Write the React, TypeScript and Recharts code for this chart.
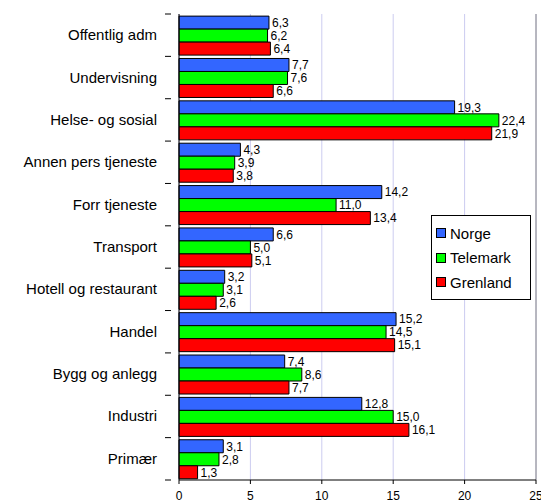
import { BarChart, Bar, XAxis, YAxis, CartesianGrid, LabelList, ReferenceLine } from 'recharts'

const categories = [
  'Offentlig adm',
  'Undervisning',
  'Helse- og sosial',
  'Annen pers tjeneste',
  'Forr tjeneste',
  'Transport',
  'Hotell og restaurant',
  'Handel',
  'Bygg og anlegg',
  'Industri',
  'Primær',
]
const norge = [6.3, 7.7, 19.3, 4.3, 14.2, 6.6, 3.2, 15.2, 7.4, 12.8, 3.1]
const telemark = [6.2, 7.6, 22.4, 3.9, 11.0, 5.0, 3.1, 14.5, 8.6, 15.0, 2.8]
const grenland = [6.4, 6.6, 21.9, 3.8, 13.4, 5.1, 2.6, 15.1, 7.7, 16.1, 1.3]
const xTicks = [0, 5, 10, 15, 20, 25]

const series = [
  { key: 'norge', name: 'Norge', color: '#3366FF' },
  { key: 'telemark', name: 'Telemark', color: '#00FF00' },
  { key: 'grenland', name: 'Grenland', color: '#FF0000' },
]

const data = categories.map((c, i) => ({
  cat: c,
  norge: norge[i],
  telemark: telemark[i],
  grenland: grenland[i],
}))

const font = '"Liberation Sans", Arial, sans-serif'
const fmt = (v: any) => Number(v).toFixed(1).replace('.', ',')

const BAND = 466 / categories.length

function CatTick(props: any) {
  const { x, y, payload, index } = props
  const top = y - BAND / 2
  return (
    <g>
      <line x1={x - 6} x2={x} y1={top} y2={top} stroke="#000" />
      {index === categories.length - 1 && (
        <line x1={x - 6} x2={x} y1={top + BAND} y2={top + BAND} stroke="#000" />
      )}
      <text x={x - 14} y={y} dy={5} textAnchor="end" fontSize={15} fill="#000" fontFamily={font}>
        {payload.value}
      </text>
    </g>
  )
}

function LegendBox() {
  return (
    <div
      style={{
        position: 'absolute',
        left: 431,
        top: 215,
        width: 98,
        border: '1px solid #000',
        background: '#fff',
        padding: '5px 0 4px 0',
        fontFamily: font,
        fontSize: 15,
      }}
    >
      {series.map((s) => (
        <div key={s.key} style={{ display: 'flex', alignItems: 'center', height: 24.5 }}>
          <span
            style={{
              display: 'inline-block',
              width: 8,
              height: 8,
              background: s.color,
              border: '1px solid #000',
              marginLeft: 4,
              marginRight: 4,
            }}
          />
          <span>{s.name}</span>
        </div>
      ))}
    </div>
  )
}

export default function App() {
  return (
    <div style={{ position: 'absolute', left: 0, top: 0, width: 541, height: 502, background: '#fff' }}>
      <BarChart
        width={541}
        height={502}
        data={data}
        layout="vertical"
        margin={{ top: 14, right: 5, left: 0, bottom: 0 }}
        barCategoryGap="5%"
        barGap={0}
      >
        <CartesianGrid horizontal={false} stroke="#CCCCF0" />
        <XAxis
          type="number"
          domain={[0, 25]}
          ticks={xTicks}
          interval={0}
          height={22}
          axisLine={{ stroke: '#000' }}
          tickLine={{ stroke: '#000' }}
          tickSize={4}
          tickMargin={7}
          tick={{ fill: '#000', fontSize: 12, fontFamily: font }}
        />
        <XAxis
          xAxisId="top"
          type="number"
          domain={[0, 25]}
          orientation="top"
          height={0}
          tick={false}
          tickLine={false}
          axisLine={{ stroke: '#888' }}
        />
        <YAxis
          type="category"
          dataKey="cat"
          width={179}
          axisLine={{ stroke: '#000' }}
          tickLine={false}
          interval={0}
          tick={<CatTick />}
        />
        <ReferenceLine x={25} stroke="#888" />
        {series.map((s) => (
          <Bar
            key={s.key}
            dataKey={s.key}
            name={s.name}
            fill={s.color}
            stroke="#000"
            strokeWidth={1}
            isAnimationActive={false}
          >
            <LabelList
              dataKey={s.key}
              position="right"
              offset={3}
              formatter={fmt}
              style={{ fill: '#000', fontSize: 12, fontFamily: font }}
            />
          </Bar>
        ))}
      </BarChart>
      <LegendBox />
    </div>
  )
}
